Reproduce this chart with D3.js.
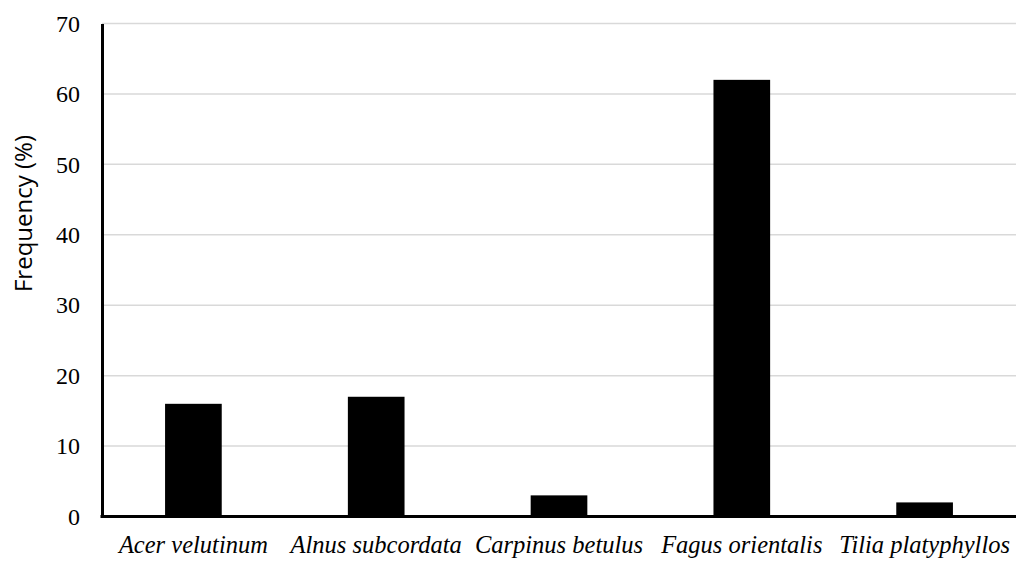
<!DOCTYPE html>
<html><head><meta charset="utf-8">
<script src="https://cdn.jsdelivr.net/npm/d3@7"></script>
<style>body{margin:0;background:#fff}svg{display:block}</style>
</head><body>
<svg id="c" width="1016" height="561"></svg>
<script>
const categories = ["Acer velutinum","Alnus subcordata","Carpinus betulus","Fagus orientalis","Tilia platyphyllos"];
const values = [16, 17, 3, 62, 2];
const yTicks = [0,10,20,30,40,50,60,70];
const yTitle = "Frequency (%)";

(function(){
const svg = d3.select("#c");
const mLeft = 102, mRight = 1016, mTop = 23.5, mBottom = 516.5;
const x = d3.scaleBand().domain(categories).range([mLeft, mRight]).paddingInner(0.69).paddingOuter(0.345);
const y = d3.scaleLinear().domain([0,70]).range([mBottom, mTop]);

svg.append("g").selectAll("line").data(yTicks.filter(d=>d>0)).join("line")
  .attr("x1", mLeft).attr("x2", mRight)
  .attr("y1", d=>y(d)).attr("y2", d=>y(d))
  .attr("stroke", "#d9d9d9").attr("stroke-width", 1.5);

svg.append("g").selectAll("rect").data(values).join("rect")
  .attr("x", (d,i)=>x(categories[i]))
  .attr("width", x.bandwidth())
  .attr("y", d=>y(d))
  .attr("height", d=>y(0)-y(d))
  .attr("fill", "#000");

const ya = d3.axisLeft(y).tickValues(yTicks).tickSize(0).tickPadding(22);
const gy = svg.append("g").attr("transform", `translate(${mLeft},0)`).call(ya);
gy.attr("font-family", null).attr("font-size", null);
gy.select(".domain").attr("stroke","#000").attr("stroke-width",3);
gy.selectAll("text").style("font-family",'"Liberation Serif"').style("font-size","24px").attr("fill","#000");

const xa = d3.axisBottom(x).tickSize(0).tickPadding(19);
const gx = svg.append("g").attr("transform", `translate(0,${mBottom})`).call(xa);
gx.attr("font-family", null).attr("font-size", null);
gx.select(".domain").attr("stroke","#000").attr("stroke-width",3).attr("d", `M${mLeft-1.5},0H${mRight}`);
gx.selectAll("text").style("font-family",'"Liberation Serif"').style("font-style","italic").style("font-size","24.5px").attr("fill","#000");

svg.append("text")
  .attr("transform", `translate(32,213.5) rotate(-90)`)
  .attr("text-anchor","middle")
  .style("font-family",'"Open Sans"').style("font-size","24px").attr("fill","#000")
  .text(yTitle);
})();
</script>
</body></html>
